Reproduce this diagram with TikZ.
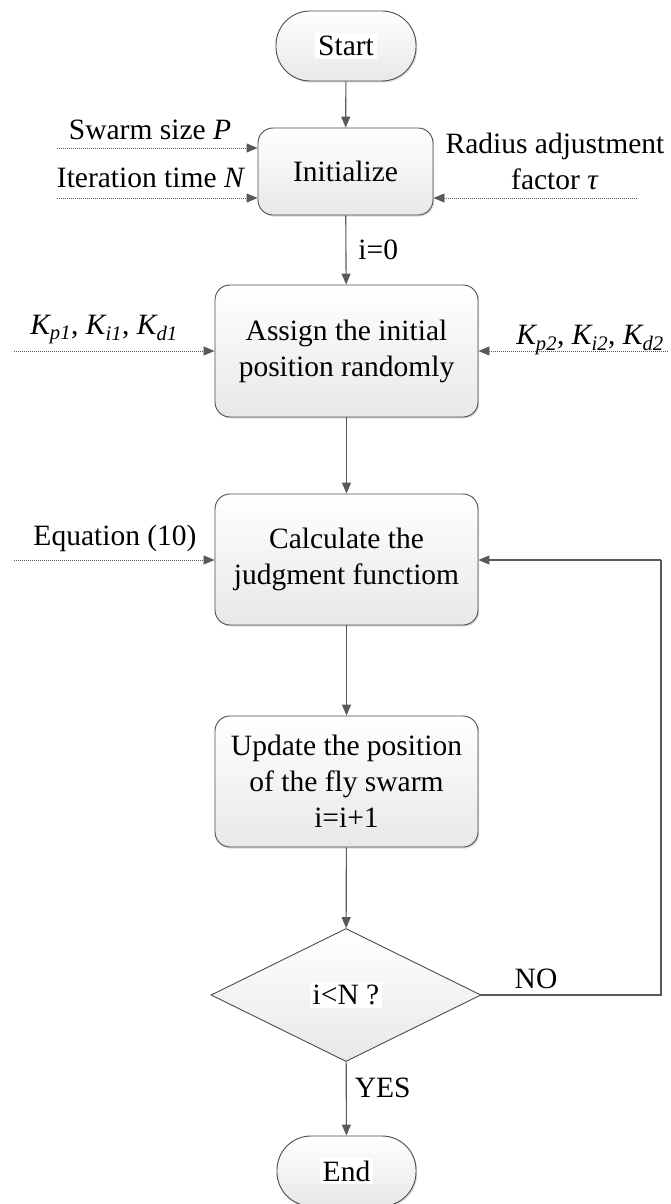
\documentclass[tikz,border=0pt]{standalone}
\usepackage{fontspec}
\setmainfont{Liberation Serif}
\usetikzlibrary{arrows.meta,shapes.geometric,shadows}
\begin{document}
\begin{tikzpicture}[x=1pt,y=-1pt,
  font=\fontsize{29.5}{36}\selectfont,
  box/.style={draw=black!70, line width=0.9pt, rounded corners=15pt, top color=white, bottom color=black!9,
    align=center, inner sep=0pt, drop shadow={shadow xshift=1.2pt, shadow yshift=-1.5pt, opacity=0.25, fill=black!60}},
  term/.style={box, rounded corners=34pt},
  decision/.style={diamond, draw=black!70, line width=0.9pt, top color=white, bottom color=black!9, inner sep=0pt,
    minimum width=270pt, minimum height=133pt},
  flow/.style={draw=black!65, line width=1.1pt, -{Triangle[length=11pt,width=9pt]}},
  link/.style={draw=black!65, line width=1.1pt},
  feed/.style={draw=black!55, line width=0.8pt, dash pattern=on 1.2pt off 0.8pt, -{Triangle[length=11pt,width=9pt]}, color=black!65},
  txt/.style={inner sep=0pt, align=center}
]
\useasboundingbox (0,0) rectangle (670,1204);

\node[term, minimum width=140pt, minimum height=70pt] (start) at (346,46) {\colorbox{white}{Start}};
\node[box, minimum width=175pt, minimum height=87pt] (init) at (345.5,171.5) {Initialize};
\node[box, minimum width=263pt, minimum height=132pt] (assign) at (346.5,351) {Assign the initial\\position randomly};
\node[box, minimum width=263pt, minimum height=131pt] (calc) at (346.5,559.5) {Calculate the\\judgment functiom};
\node[box, minimum width=263pt, minimum height=131pt] (update) at (346.5,781.5) {Update the position\\of the fly swarm\\i=i+1};
\node[decision] (dec) at (346,995) {\colorbox{white}{i<N ?}};
\node[term, minimum width=139pt, minimum height=70pt] (end) at (346.5,1171) {\colorbox{white}{End}};

% flow connectors
\draw[flow] (start) -- (init);
\draw[flow] (init) -- (assign) node[pos=0.5, right=12pt, txt] (i0) {i=0};
\draw[flow] (assign) -- (calc);
\draw[flow] (calc) -- (update);
\draw[flow] (update) -- (dec);
\draw[flow] (dec) -- (end) node[pos=0.35, right=8pt, txt] (yes) {YES};
\coordinate (loopA) at (661,995);
\coordinate (loopB) at (661,560);
\draw[link] (dec.east) -- (loopA) -- (loopB);
\draw[flow] (loopB) -- (calc.east |- loopB);
\node[txt] (no) at (536,979) {NO};

% inputs
\coordinate (inP) at (57,148);
\coordinate (inN) at (57,198);
\coordinate (inT) at (637,198);
\coordinate (inK1) at (14,351);
\coordinate (inK2) at (668,351);
\coordinate (inE) at (14,560);
\draw[feed] (inP) -- (inP -| init.west);
\draw[feed] (inN) -- (inN -| init.west);
\draw[feed] (inT) -- (inT -| init.east);
\draw[feed] (inK1) -- (assign.west);
\draw[feed] (inK2) -- (assign.east);
\draw[feed] (inE) -- (inE -| calc.west);

\node[txt] (lP) at (150,130) {Swarm size \textit{P}};
\node[txt] (lN) at (151,178) {Iteration time \textit{N}};
\node[txt] (lT) at (555,161) {Radius adjustment\\factor \textit{τ}};
\node[txt] (lK1) at (104,330) {\textit{K\textsubscript{p1}}, \textit{K\textsubscript{i1}}, \textit{K\textsubscript{d1}}};
\node[txt] (lK2) at (590,340) {\textit{K\textsubscript{p2}}, \textit{K\textsubscript{i2}}, \textit{K\textsubscript{d2}}};
\node[txt] (lE) at (115,538) {Equation (10)};
\end{tikzpicture}
\end{document}
